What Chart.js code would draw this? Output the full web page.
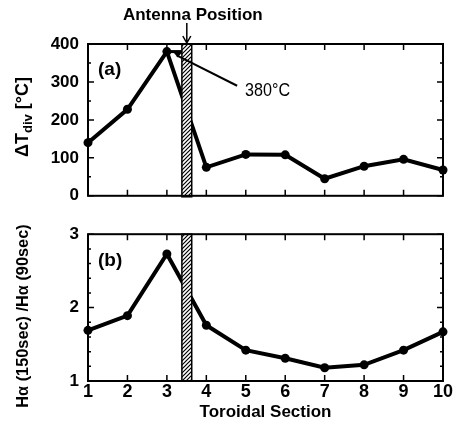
<!DOCTYPE html>
<html><head><meta charset="utf-8">
<script src="https://cdn.jsdelivr.net/npm/chart.js@4.4.0/dist/chart.umd.min.js"></script>
<style>
html,body{margin:0;padding:0;background:#fff;}
#wrap{position:relative;width:457px;height:430px;overflow:hidden;}
canvas{position:absolute;left:0;}
#ca{top:0}
#cb{top:215px}
</style></head><body>
<div id="wrap">
<canvas id="ca" width="457" height="215"></canvas>
<canvas id="cb" width="457" height="215"></canvas>
</div>
<script>
// ---- data ----
const sections = [1, 2, 3, 4, 5, 6, 7, 8, 9, 10];
const deltaT = [140, 228, 380, 75, 109, 108, 45, 78, 96, 68];
const haRatio = [1.69, 1.89, 2.73, 1.76, 1.42, 1.31, 1.18, 1.22, 1.42, 1.67];
const xTicks = [1, 2, 3, 4, 5, 6, 7, 8, 9, 10];
const yTicksA = [0, 100, 200, 300, 400];
const yMinorA = [50, 150, 250, 350];
const yTicksB = [1, 2, 3];
const yMinorB = [1.2, 1.4, 1.6, 1.8, 2.2, 2.4, 2.6, 2.8];
const antennaStart = 3.38, antennaEnd = 3.63;
const antennaLabel = 'Antenna Position';
const peakLabel = '380°C';
const peakLeader = [[4.78, 290], [3.25, 370]];
const peakLabelPos = [4.98, 262];

const SANS = '"Liberation Sans",Arial,sans-serif';

function hatchPattern(ctx) {
  const c = document.createElement('canvas');
  c.width = 4; c.height = 4;
  const g = c.getContext('2d');
  g.fillStyle = '#fff'; g.fillRect(0, 0, 4, 4);
  g.strokeStyle = '#000'; g.lineWidth = 1.2;
  g.beginPath();
  g.moveTo(-1, 5); g.lineTo(5, -1);
  g.moveTo(-1, 1); g.lineTo(1, -1);
  g.moveTo(3, 5); g.lineTo(5, 3);
  g.stroke();
  return ctx.createPattern(c, 'repeat');
}

// draw text horizontally compressed (text is still real canvas text)
function narrowText(ctx, txt, x, y, sx) {
  ctx.save();
  ctx.translate(x, y);
  ctx.scale(sx, 1);
  ctx.fillText(txt, 0, 0);
  ctx.restore();
}

const deco = {
  id: 'deco',
  afterDatasetsDraw(chart, args, o) {
    const ctx = chart.ctx, ca = chart.chartArea;
    const xs = chart.scales.x, ys = chart.scales.y;
    ctx.save();
    // antenna bar
    const bx0 = xs.getPixelForValue(antennaStart), bx1 = xs.getPixelForValue(antennaEnd);
    const by0 = ca.top, by1 = ca.bottom + (o.panel === 'a' ? 1 : 0);
    ctx.fillStyle = hatchPattern(ctx);
    ctx.fillRect(bx0, by0, bx1 - bx0, by1 - by0);
    ctx.strokeStyle = '#000'; ctx.lineWidth = 1.5;
    ctx.strokeRect(bx0, by0, bx1 - bx0, by1 - by0);
    // frame
    ctx.lineWidth = 2;
    ctx.strokeRect(ca.left, ca.top, ca.right - ca.left, ca.bottom - ca.top);
    // ticks
    ctx.lineWidth = 1.5;
    ctx.beginPath();
    xTicks.forEach(v => {
      const px = xs.getPixelForValue(v);
      ctx.moveTo(px, ca.bottom); ctx.lineTo(px, ca.bottom - 6);
      ctx.moveTo(px, ca.top); ctx.lineTo(px, ca.top + 6);
    });
    o.major.forEach(v => {
      const py = ys.getPixelForValue(v);
      ctx.moveTo(ca.left, py); ctx.lineTo(ca.left + 6, py);
      ctx.moveTo(ca.right, py); ctx.lineTo(ca.right - 6, py);
    });
    o.minor.forEach(v => {
      const py = ys.getPixelForValue(v);
      ctx.moveTo(ca.left, py); ctx.lineTo(ca.left + 3, py);
      ctx.moveTo(ca.right, py); ctx.lineTo(ca.right - 3, py);
    });
    ctx.stroke();
    // panel label
    ctx.fillStyle = '#000';
    ctx.font = 'bold 19px ' + SANS;
    ctx.textAlign = 'left'; ctx.textBaseline = 'alphabetic';
    ctx.fillText(o.panel === 'a' ? '(a)' : '(b)', ca.left + 10, ca.top + (o.panel === 'a' ? 31 : 32));

    if (o.panel === 'a') {
      // antenna label + arrow
      const ax = (bx0 + bx1) / 2;
      ctx.font = 'bold 17px ' + SANS;
      ctx.textAlign = 'center';
      ctx.fillText(antennaLabel, ax + 6, 20);
      ctx.lineWidth = 1.5;
      ctx.beginPath();
      ctx.moveTo(ax, 23); ctx.lineTo(ax, ca.top - 1);
      ctx.moveTo(ax - 4, ca.top - 8); ctx.lineTo(ax, ca.top - 1); ctx.lineTo(ax + 4, ca.top - 8);
      ctx.stroke();
      // leader line to peak
      const p0x = xs.getPixelForValue(peakLeader[0][0]), p0y = ys.getPixelForValue(peakLeader[0][1]);
      const p1x = xs.getPixelForValue(peakLeader[1][0]), p1y = ys.getPixelForValue(peakLeader[1][1]);
      ctx.lineWidth = 2;
      ctx.beginPath(); ctx.moveTo(p0x, p0y); ctx.lineTo(p1x, p1y); ctx.stroke();
      const pkx = xs.getPixelForValue(3), pky = ys.getPixelForValue(380);
      ctx.lineWidth = 3;
      ctx.beginPath(); ctx.moveTo(pkx, pky); ctx.lineTo(bx0, pky); ctx.stroke();
      ctx.beginPath();
      ctx.moveTo(p1x - 4, pky); ctx.lineTo(p1x + 6, pky); ctx.lineTo(p1x + 1, pky + 6); ctx.closePath();
      ctx.fill();
      ctx.font = '19px ' + SANS;
      ctx.textAlign = 'left';
      narrowText(ctx, peakLabel, xs.getPixelForValue(peakLabelPos[0]), ys.getPixelForValue(peakLabelPos[1]), 0.85);
    }
    ctx.restore();
  },
  afterDraw(chart, args, o) {
    const ctx = chart.ctx;
    ctx.save();
    ctx.fillStyle = '#000';
    ctx.textBaseline = 'alphabetic';
    if (o.panel === 'a') {
      ctx.translate(28, 117);
      ctx.rotate(-Math.PI / 2);
      const f1 = 'bold 18px ' + SANS, f2 = 'bold 13px ' + SANS;
      const parts = [['ΔT', f1, 0], ['div', f2, 4], [' [°C]', f1, 0]];
      let w = 0;
      parts.forEach(p => { ctx.font = p[1]; w += ctx.measureText(p[0]).width; });
      let x = -w / 2;
      parts.forEach(p => { ctx.font = p[1]; ctx.fillText(p[0], x, p[2]); x += ctx.measureText(p[0]).width; });
    } else {
      ctx.translate(28, 101);
      ctx.rotate(-Math.PI / 2);
      ctx.font = 'bold 17px ' + SANS;
      ctx.textAlign = 'center';
      narrowText(ctx, 'Hα (150sec) /Hα (90sec)', 0, 0, 0.96);
    }
    ctx.restore();
  }
};

const tickFont = { family: SANS, size: 17, weight: 'bold' };
const xTickFont = { family: SANS, size: 18, weight: 'bold' };

function lineDataset(vals) {
  return {
    data: sections.map((s, i) => ({ x: s, y: vals[i] })),
    borderColor: '#000', backgroundColor: '#000',
    borderWidth: 4, pointRadius: 4.5, pointHoverRadius: 4.5,
    pointBackgroundColor: '#000', pointBorderWidth: 0,
    tension: 0, clip: false
  };
}

new Chart(document.getElementById('ca'), {
  type: 'line',
  data: { datasets: [lineDataset(deltaT)] },
  options: {
    responsive: false, animation: false, devicePixelRatio: 1,
    layout: { padding: { top: 44, right: 14, bottom: 17, left: 0 } },
    plugins: { legend: { display: false }, tooltip: { enabled: false },
      deco: { panel: 'a', major: yTicksA, minor: yMinorA } },
    scales: {
      x: { type: 'linear', min: 1, max: 10, display: false },
      y: {
        min: 0, max: 400,
        afterFit(s) { s.width = 88; },
        afterBuildTicks(s) { s.ticks = yTicksA.map(v => ({ value: v })); },
        grid: { display: false, drawTicks: false },
        border: { display: false },
        ticks: { font: tickFont, color: '#000', padding: 9 }
      }
    }
  },
  plugins: [deco]
});

new Chart(document.getElementById('cb'), {
  type: 'line',
  data: { datasets: [lineDataset(haRatio)] },
  options: {
    responsive: false, animation: false, devicePixelRatio: 1,
    layout: { padding: { top: 13, right: 14, bottom: 7, left: 0 } },
    plugins: { legend: { display: false }, tooltip: { enabled: false },
      deco: { panel: 'b', major: yTicksB, minor: yMinorB } },
    scales: {
      x: {
        type: 'linear', min: 1, max: 10,
        afterFit(s) { s.height = 42; },
        afterBuildTicks(s) { s.ticks = xTicks.map(v => ({ value: v })); },
        grid: { display: false, drawTicks: false },
        border: { display: false },
        ticks: { font: xTickFont, color: '#000', padding: 0, maxRotation: 0, autoSkip: false },
        title: { display: true, text: 'Toroidal Section', color: '#000',
          font: { family: SANS, size: 17, weight: 'bold' }, padding: { top: 0, bottom: 0 } }
      },
      y: {
        min: 1, max: 3,
        afterFit(s) { s.width = 88; },
        afterBuildTicks(s) { s.ticks = yTicksB.map(v => ({ value: v })); },
        grid: { display: false, drawTicks: false },
        border: { display: false },
        ticks: { font: tickFont, color: '#000', padding: 9 }
      }
    }
  },
  plugins: [deco]
});
</script>
</body></html>
